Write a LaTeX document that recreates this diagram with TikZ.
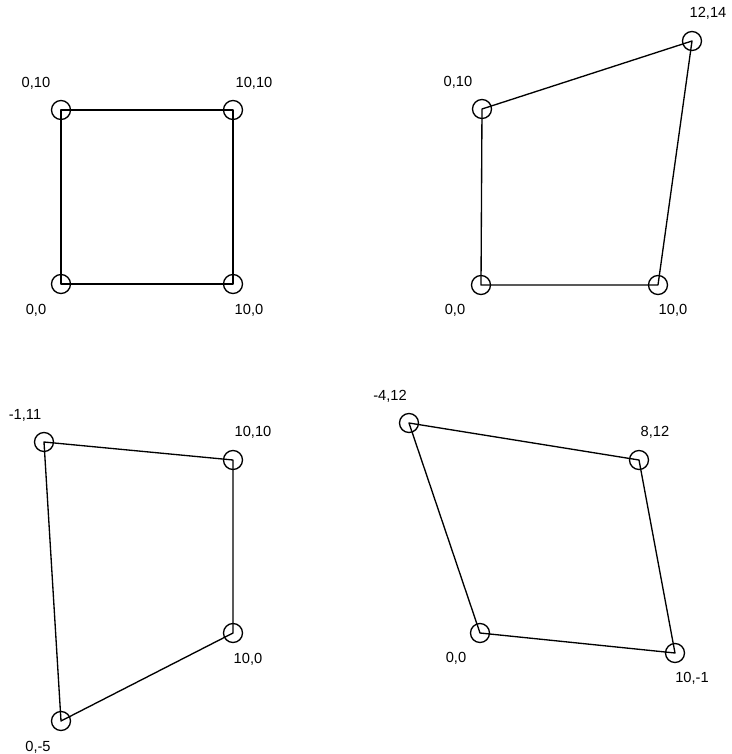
\documentclass[tikz,border=0pt]{standalone}
\usepackage{fontspec}
\setmainfont{Liberation Sans}
\usetikzlibrary{positioning}
\tikzset{>=latex}

\begin{document}
\begin{tikzpicture}[x=0.75pt, y=-0.75pt,
                    line cap=round, line join=round,
                    vertex/.style={circle, draw, line width=1pt, minimum size=14.25pt, inner sep=0pt},
                    edge/.style={line width=1pt},
                    coord/.style={font=\fontsize{11}{13}\selectfont, inner sep=0pt}]
  \useasboundingbox (0,0) rectangle (732,754);

  % vertices: name / position / label text / label position
  \foreach \n/\p/\t/\l in {
      a1/{61,284}/{0,0}/{36,310},     b1/{233,284}/{10,0}/{249,310},
      c1/{233,110}/{10,10}/{254,83},  d1/{61,110}/{0,10}/{36,83},
      a2/{481,285}/{0,0}/{455,310},   b2/{658,285}/{10,0}/{673,310},
      c2/{692,41}/{12,14}/{708,13},   d2/{482,109}/{0,10}/{458,82},
      a3/{61,721}/{0,-5}/{38,747},    b3/{233,633}/{10,0}/{248,659},
      c3/{233,460}/{10,10}/{253,432}, d3/{44,442}/{-1,11}/{25,415},
      a4/{480,633}/{0,0}/{456,658},   b4/{675,653}/{10,-1}/{692,678},
      c4/{639,460}/{8,12}/{655,432},  d4/{409,423}/{-4,12}/{390,396}}{
    \node[vertex] (\n) at (\p) {};
    \node[coord] (\n l) at (\l) {\t};
  }

  % quadrilaterals
  \foreach \i in {1,...,4}{
    \draw[edge] (a\i.center) -- (b\i.center) -- (c\i.center) -- (d\i.center) -- cycle;
  }
\end{tikzpicture}
\end{document}
